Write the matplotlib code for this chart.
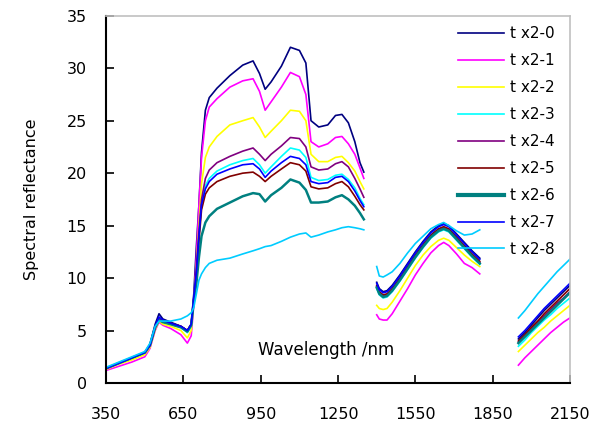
import matplotlib
matplotlib.use("Agg")
import matplotlib.pyplot as plt
import numpy as np

# wavelength grids for the three measured bands (gaps = water absorption)
w1 = [350, 400, 450, 500, 520, 540, 555, 570, 600, 640, 665, 680, 690,
      700, 710, 720, 735, 750, 780, 830, 880, 920, 945, 967, 990, 1030, 1065,
      1100, 1125, 1145, 1175, 1210, 1240, 1265, 1290, 1315, 1335, 1350]
w2 = [1400, 1410, 1425, 1440, 1460, 1490, 1520, 1550, 1580, 1610, 1640,
      1660, 1680, 1710, 1740, 1770, 1800]
w3 = [1950, 1975, 2000, 2025, 2050, 2075, 2100, 2125, 2150]

labels = ["t x2-0", "t x2-1", "t x2-2", "t x2-3", "t x2-4",
          "t x2-5", "t x2-6", "t x2-7", "t x2-8"]
colors = ["#000080", "#FF00FF", "#FFFF00", "#00FFFF", "#800080",
          "#800000", "#008080", "#0000FF", "#00CCFF"]

# band 1 (350-1350 nm)
tx0_1 = [1.4, 1.9, 2.4, 2.9, 3.7, 5.6, 6.6, 6.1, 5.8, 5.4, 5.0, 5.6, 8.5,
         13.0, 17.0, 22.0, 26.0, 27.2, 28.1, 29.3, 30.3, 30.7, 29.5, 28.0, 28.7, 30.2, 32.0,
         31.7, 30.5, 25.0, 24.4, 24.6, 25.5, 25.6, 24.8, 23.0, 21.0, 20.1]
tx1_1 = [1.2, 1.6, 2.0, 2.5, 3.3, 5.0, 5.8, 5.5, 5.2, 4.6, 3.8, 4.5, 7.5,
         12.0, 17.0, 21.5, 25.0, 26.3, 27.1, 28.2, 28.8, 29.0, 27.8, 26.0, 26.8, 28.2, 29.6,
         29.2, 27.5, 23.0, 22.5, 22.8, 23.4, 23.5, 22.8, 21.8, 20.5, 19.5]
tx2_1 = [1.3, 1.8, 2.2, 2.7, 3.4, 5.1, 5.9, 5.6, 5.4, 5.0, 4.3, 5.0, 7.8,
         11.0, 15.0, 19.0, 21.5, 22.5, 23.5, 24.6, 25.0, 25.3, 24.4, 23.4, 24.0, 25.0, 26.0,
         25.9, 25.0, 21.8, 21.1, 21.1, 21.5, 21.6, 21.0, 20.2, 19.2, 18.5]
tx3_1 = [1.4, 1.9, 2.4, 2.9, 3.6, 5.3, 6.0, 5.8, 5.6, 5.3, 4.8, 5.4, 7.9,
         10.5, 14.0, 17.0, 18.8, 19.5, 20.2, 20.8, 21.2, 21.4, 20.8, 20.0, 20.6, 21.6, 22.4,
         22.2, 21.5, 19.6, 19.3, 19.4, 19.8, 19.9, 19.4, 18.6, 17.6, 17.0]
tx4_1 = [1.4, 1.9, 2.4, 2.9, 3.6, 5.3, 6.1, 5.9, 5.7, 5.4, 5.0, 5.6, 8.0,
         11.0, 14.5, 17.5, 19.5, 20.3, 21.0, 21.6, 22.1, 22.4, 21.8, 21.2, 21.8, 22.6, 23.4,
         23.3, 22.5, 20.6, 20.3, 20.4, 20.9, 21.1, 20.6, 19.5, 18.5, 17.7]
tx5_1 = [1.4, 1.9, 2.4, 2.9, 3.6, 5.3, 6.1, 5.9, 5.7, 5.4, 5.0, 5.6, 8.0,
         10.0, 13.5, 16.5, 18.0, 18.6, 19.2, 19.7, 20.0, 20.1, 19.7, 19.2, 19.7, 20.4, 21.0,
         20.8, 20.2, 18.7, 18.5, 18.6, 19.0, 19.2, 18.7, 17.8, 17.0, 16.5]
tx6_1 = [1.4, 1.9, 2.4, 2.9, 3.6, 5.3, 6.0, 5.8, 5.6, 5.3, 4.9, 5.5, 7.8,
         9.5, 12.0, 14.0, 15.3, 15.9, 16.6, 17.2, 17.8, 18.1, 18.0, 17.3, 17.9, 18.6, 19.4,
         19.1, 18.4, 17.2, 17.2, 17.3, 17.7, 17.9, 17.5, 16.9, 16.2, 15.6]
tx7_1 = [1.4, 1.9, 2.4, 2.9, 3.6, 5.4, 6.3, 6.0, 5.7, 5.4, 5.0, 5.6, 8.2,
         10.5, 14.0, 17.0, 18.5, 19.2, 19.9, 20.4, 20.8, 20.9, 20.4, 19.6, 20.2, 21.0, 21.6,
         21.4, 20.8, 19.2, 19.0, 19.1, 19.6, 19.7, 19.2, 18.3, 17.4, 16.8]
tx8_1 = [1.5, 2.0, 2.5, 3.0, 3.8, 5.4, 5.9, 5.9, 5.9, 6.1, 6.4, 6.7, 7.2,
         8.5, 9.8, 10.4, 11.0, 11.4, 11.7, 11.9, 12.3, 12.6, 12.8, 13.0, 13.1, 13.5, 13.9,
         14.2, 14.3, 13.9, 14.1, 14.4, 14.6, 14.8, 14.9, 14.8, 14.7, 14.6]

# band 2 (1400-1800 nm)
tx0_2 = [9.6, 9.0, 8.7, 8.8, 9.3, 10.3, 11.4, 12.5, 13.5, 14.4, 15.0, 15.2, 15.0, 14.2, 13.4, 12.6, 11.9]
tx1_2 = [6.5, 6.1, 6.0, 6.0, 6.6, 7.8, 9.0, 10.3, 11.4, 12.4, 13.1, 13.4, 13.1, 12.3, 11.4, 11.0, 10.4]
tx2_2 = [7.4, 7.1, 7.0, 7.1, 7.7, 8.8, 10.0, 11.2, 12.2, 13.0, 13.6, 13.8, 13.6, 12.9, 12.2, 11.6, 11.1]
tx3_2 = [9.0, 8.4, 8.1, 8.2, 8.7, 9.7, 10.8, 11.9, 12.9, 13.8, 14.4, 14.6, 14.4, 13.6, 12.8, 12.0, 11.3]
tx4_2 = [9.2, 8.6, 8.3, 8.4, 8.9, 9.9, 11.0, 12.1, 13.1, 14.0, 14.6, 14.8, 14.6, 13.8, 13.0, 12.2, 11.5]
tx5_2 = [9.3, 8.7, 8.4, 8.5, 9.0, 10.0, 11.1, 12.2, 13.2, 14.1, 14.7, 14.9, 14.7, 13.9, 13.1, 12.3, 11.6]
tx6_2 = [9.1, 8.5, 8.2, 8.3, 8.8, 9.8, 10.9, 12.0, 13.0, 13.9, 14.5, 14.7, 14.5, 13.7, 12.9, 12.1, 11.4]
tx7_2 = [9.5, 8.9, 8.6, 8.7, 9.2, 10.2, 11.3, 12.4, 13.4, 14.3, 14.9, 15.1, 14.9, 14.1, 13.3, 12.5, 11.8]
tx8_2 = [11.1, 10.2, 10.1, 10.3, 10.6, 11.4, 12.4, 13.3, 14.0, 14.7, 15.1, 15.3, 15.0, 14.5, 14.1, 14.2, 14.6]

# band 3 (1950-2150 nm)
tx0_3 = [4.2, 4.8, 5.5, 6.2, 6.9, 7.5, 8.1, 8.7, 9.3]
tx1_3 = [1.7, 2.4, 3.0, 3.6, 4.2, 4.8, 5.3, 5.8, 6.2]
tx2_3 = [3.0, 3.6, 4.2, 4.8, 5.3, 5.9, 6.4, 6.9, 7.4]
tx3_3 = [3.5, 4.1, 4.8, 5.4, 6.0, 6.5, 7.1, 7.6, 8.1]
tx4_3 = [3.9, 4.5, 5.2, 5.8, 6.4, 7.0, 7.6, 8.1, 8.7]
tx5_3 = [4.0, 4.6, 5.3, 5.9, 6.6, 7.2, 7.8, 8.4, 9.0]
tx6_3 = [3.8, 4.4, 5.0, 5.6, 6.2, 6.8, 7.4, 8.0, 8.6]
tx7_3 = [4.4, 5.0, 5.7, 6.4, 7.1, 7.7, 8.3, 8.9, 9.5]
tx8_3 = [6.2, 6.9, 7.7, 8.5, 9.2, 9.9, 10.6, 11.2, 11.8]

band1 = [tx0_1, tx1_1, tx2_1, tx3_1, tx4_1, tx5_1, tx6_1, tx7_1, tx8_1]
band2 = [tx0_2, tx1_2, tx2_2, tx3_2, tx4_2, tx5_2, tx6_2, tx7_2, tx8_2]
band3 = [tx0_3, tx1_3, tx2_3, tx3_3, tx4_3, tx5_3, tx6_3, tx7_3, tx8_3]

wl = np.array(w1 + [np.nan] + w2 + [np.nan] + w3, dtype=float)

fig = plt.figure(figsize=(5.9, 4.33), dpi=100)
ax = fig.add_axes([0.18, 0.1155, 0.786, 0.848])

handles = []
for i in range(len(labels)):
    y = np.array(band1[i] + [np.nan] + band2[i] + [np.nan] + band3[i], dtype=float)
    lw = 1.8 if i == 6 else 1.2
    ln, = ax.plot(wl, y, color=colors[i], lw=lw, label=labels[i])
    handles.append(ln)

ax.set_xlim(350, 2150)
ax.set_ylim(0, 35)
ax.set_xticks([350, 650, 950, 1250, 1550, 1850, 2150])
ax.set_yticks([0, 5, 10, 15, 20, 25, 30, 35])
ax.tick_params(axis="x", direction="in", length=6, width=1.2, pad=17, labelsize=11.5)
ax.tick_params(axis="y", direction="in", length=6, width=1.2, pad=14, labelsize=11.5)

for s in ["left", "bottom"]:
    ax.spines[s].set_linewidth(1.5)
    ax.spines[s].set_color("black")
for s in ["top", "right"]:
    ax.spines[s].set_linewidth(1.2)
    ax.spines[s].set_color("#c0c0c0")

ax.set_ylabel("Spectral reflectance", fontsize=11.5, labelpad=20)
ax.text(0.328, 0.09, "Wavelength /nm", transform=ax.transAxes, fontsize=12,
        ha="left", va="center")

leg = ax.legend(loc="upper left", bbox_to_anchor=(0.735, 1.0), frameon=False,
                fontsize=11, handlelength=3.0, handletextpad=0.4, labelspacing=0.78,
                borderaxespad=0.3)
leg.get_lines()[6].set_linewidth(3.0)

fig.savefig("out.png", dpi=100)
